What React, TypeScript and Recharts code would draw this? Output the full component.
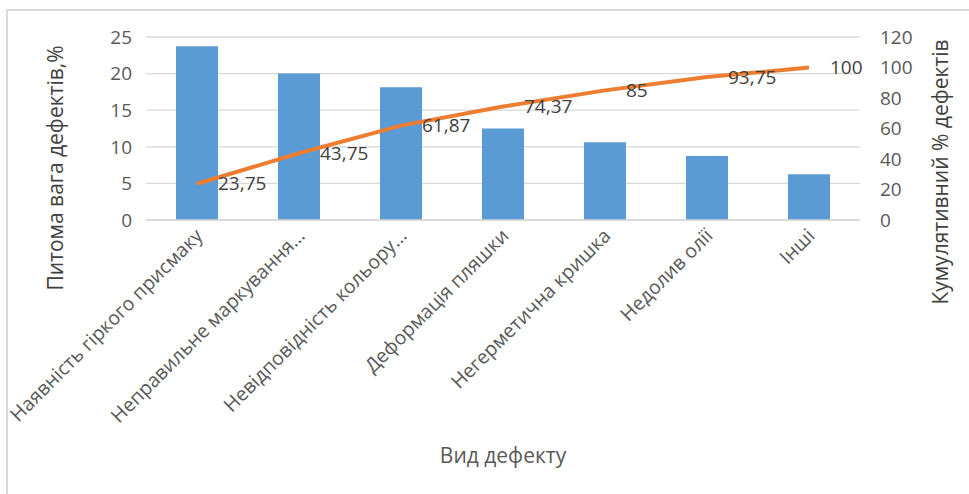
import React from 'react';
import { ComposedChart, Bar, Line, XAxis, YAxis, CartesianGrid, LabelList } from 'recharts';

const categories = [
    'Наявність гіркого присмаку',
    'Неправильне маркування…',
    'Невідповідність кольору…',
    'Деформація пляшки',
    'Негерметична кришка',
    'Недолив олії',
    'Інші',
];
const shares = [23.75, 20, 18.12, 12.5, 10.63, 8.75, 6.25];
const cumulative = [23.75, 43.75, 61.87, 74.37, 85, 93.75, 100];
const leftTicks = [0, 5, 10, 15, 20, 25];
const rightTicks = [0, 20, 40, 60, 80, 100, 120];

const data = categories.map((name, i) => ({ name, share: shares[i], cum: cumulative[i] }));

const FONT = '"Open Sans", "Noto Sans", sans-serif';
const TICK_COLOR = '#595959';

const XTick = ({ x, y, payload }: any) => {
    const tx = x + 7;
    const ty = y + 9;
    return (
        <text
            x={tx}
            y={ty}
            transform={`rotate(-45, ${tx}, ${ty})`}
            textAnchor="end"
            fill={TICK_COLOR}
            fontSize={19.5}
            fontFamily={FONT}
        >
            {payload.value}
        </text>
    );
};

const CumLabel = ({ x, y, value }: any) => (
    <text x={x + 21} y={y} dy="0.35em" textAnchor="start" fill="#404040" fontSize={19} fontFamily={FONT}>
        {String(value).replace('.', ',')}
    </text>
);

export default function App() {
    return (
        <div style={{ position: 'absolute', left: 0, top: 0, width: 969, height: 494, background: '#fff', fontFamily: FONT }}>
            <div style={{ position: 'absolute', left: 6, top: 9, width: 969, height: 485, borderLeft: '2px solid #d9d9d9', borderTop: '2px solid #d9d9d9' }} />
            <ComposedChart
                width={969}
                height={494}
                data={data}
                margin={{ top: 37, right: 49, left: 86, bottom: 74 }}
                style={{ position: 'absolute', left: 0, top: 0 }}
            >
                <CartesianGrid vertical={false} stroke="#d9d9d9" strokeWidth={1.3} yAxisId="left" />
                <XAxis
                    dataKey="name"
                    interval={0}
                    height={200}
                    tickLine={false}
                    axisLine={{ stroke: '#d9d9d9', strokeWidth: 1.3 }}
                    tick={<XTick />}
                />
                <YAxis
                    yAxisId="left"
                    orientation="left"
                    width={60}
                    domain={[0, 25]}
                    ticks={leftTicks}
                    tickLine={false}
                    axisLine={false}
                    tickMargin={8}
                    tick={{ fill: TICK_COLOR, fontSize: 19, fontFamily: FONT }}
                />
                <YAxis
                    yAxisId="right"
                    orientation="right"
                    width={60}
                    domain={[0, 120]}
                    ticks={rightTicks}
                    tickLine={false}
                    axisLine={false}
                    tickMargin={14}
                    tick={{ fill: TICK_COLOR, fontSize: 19, fontFamily: FONT, textAnchor: 'start' }}
                />
                <Bar yAxisId="left" dataKey="share" fill="#5b9bd5" barSize={42} isAnimationActive={false} />
                <Line
                    yAxisId="right"
                    type="linear"
                    dataKey="cum"
                    stroke="#ed7d31"
                    strokeWidth={4}
                    dot={false}
                    isAnimationActive={false}
                >
                    <LabelList dataKey="cum" content={<CumLabel />} />
                </Line>
            </ComposedChart>
            <div style={{ position: 'absolute', left: 55, top: 168, transform: 'translate(-50%, -50%) rotate(-90deg)', whiteSpace: 'nowrap', fontSize: 21, color: '#404040' }}>
                Питома вага дефектів,%
            </div>
            <div style={{ position: 'absolute', left: 940, top: 172, transform: 'translate(-50%, -50%) rotate(-90deg)', whiteSpace: 'nowrap', fontSize: 21, color: '#404040' }}>
                Кумулятивний % дефектів
            </div>
            <div style={{ position: 'absolute', left: 503, top: 455, transform: 'translate(-50%, -50%)', whiteSpace: 'nowrap', fontSize: 21, color: TICK_COLOR }}>
                Вид дефекту
            </div>
        </div>
    );
}
